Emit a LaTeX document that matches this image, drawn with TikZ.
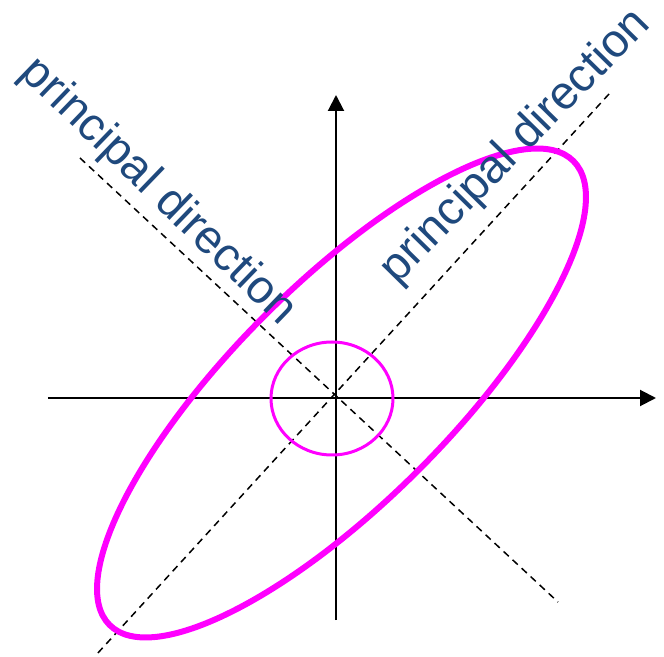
\documentclass[tikz,border=0pt]{standalone}
\usepackage{fontspec}
\setmainfont{Liberation Sans}
\usetikzlibrary{arrows.meta}
\definecolor{labelblue}{HTML}{1F497D}
\definecolor{ringmagenta}{RGB}{255,0,255}

\begin{document}
\begin{tikzpicture}[
  >={Triangle[length=0.32cm, width=0.32cm]},
  axis/.style={->, line width=0.04cm},
  pdir/.style={line width=0.03cm, dash pattern=on 4pt off 3pt},
  ring/.style={draw=ringmagenta, line width=0.06cm},
  bigring/.style={draw=ringmagenta, line width=0.12cm},
  lbl/.style={text=labelblue, font=\fontsize{26.6}{31}\selectfont, inner sep=0pt},
]
  \useasboundingbox (-6.72,-5.18) rectangle (6.56,7.96);

  % Axes
  \coordinate (xl) at (-5.76,0);
  \coordinate (xr) at (6.40,0);
  \coordinate (yb) at (0,-4.44);
  \coordinate (yt) at (0,6.06);
  \draw[axis] (xl) -- (xr);
  \draw[axis] (yb) -- (yt);

  % Principal directions
  \coordinate (nw) at (-5.12,4.80);
  \coordinate (se) at (4.44,-4.08);
  \coordinate (ne) at (5.46,6.08);
  \coordinate (sw) at (-4.78,-5.12);
  \draw[pdir] (nw) -- (se);
  \draw[pdir] (ne) -- (sw);

  % Unit circle and its image
  \draw[ring] (-0.08,-0.01) ellipse [x radius=1.22, y radius=1.13];
  \draw[bigring, rotate around={45:(0.11,0.10)}] (0.11,0.10) ellipse [x radius=6.56, y radius=2.18];

  % Labels
  \node[lbl, rotate=-44] (dirminor) at (-3.56,4.12) {principal direction};
  \node[lbl, rotate=45.5] (dirmajor) at (3.60,5.02) {principal direction};

\end{tikzpicture}
\end{document}
